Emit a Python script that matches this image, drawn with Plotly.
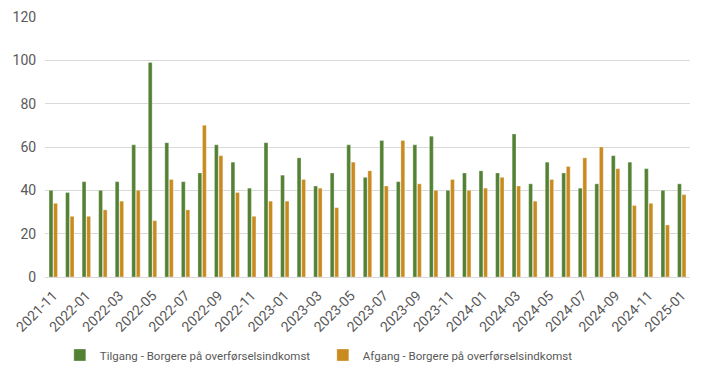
import plotly.graph_objects as go

months = ["2021-11","2021-12","2022-01","2022-02","2022-03","2022-04","2022-05","2022-06",
          "2022-07","2022-08","2022-09","2022-10","2022-11","2022-12","2023-01","2023-02",
          "2023-03","2023-04","2023-05","2023-06","2023-07","2023-08","2023-09","2023-10",
          "2023-11","2023-12","2024-01","2024-02","2024-03","2024-04","2024-05","2024-06",
          "2024-07","2024-08","2024-09","2024-10","2024-11","2024-12","2025-01"]
tilgang = [40,39,44,40,44,61,99,62,44,48,61,53,41,62,47,55,42,48,61,46,63,44,61,65,
           40,48,49,48,66,43,53,48,41,43,56,53,50,40,43]
afgang = [34,28,28,31,35,40,26,45,31,70,56,39,28,35,35,45,41,32,53,49,42,63,43,40,
          45,40,41,46,42,35,45,51,55,60,50,33,34,24,38]
tick_labels = months[::2]
y_ticks = [0,20,40,60,80,100,120]

font_fam = "Roboto, Arial, sans-serif"
grey = "#595959"

fig = go.Figure()
fig.add_trace(go.Bar(x=months, y=tilgang, name="Tilgang - Borgere på overførselsindkomst",
                     marker=dict(color="#548235", line=dict(color="rgba(255,255,255,0.6)", width=0.5))))
fig.add_trace(go.Bar(x=months, y=afgang, name="Afgang - Borgere på overførselsindkomst",
                     marker=dict(color="#C98B1F", line=dict(color="rgba(255,255,255,0.6)", width=0.5))))

fig.update_layout(
    width=711, height=381,
    margin=dict(l=45, r=21, t=17, b=104, autoexpand=False),
    paper_bgcolor="white", plot_bgcolor="white",
    barmode="group", bargap=0.45, bargroupgap=0.15,
    font=dict(family=font_fam, color=grey, size=13),
    legend=dict(orientation="h", x=0.023, xanchor="left", y=-0.3, yanchor="middle",
                font=dict(size=11.5, color=grey), itemwidth=30, entrywidth=218, entrywidthmode="pixels"),
    showlegend=True,
)
fig.update_xaxes(type="category", tickmode="array", tickvals=tick_labels, ticktext=tick_labels,
                 tickangle=-45, tickfont=dict(size=14, color=grey), showgrid=False,
                 showline=False, ticks="outside", ticklen=4, tickcolor="rgba(0,0,0,0)",
                 zeroline=False, automargin=False)
fig.update_yaxes(range=[0, 120], tickvals=y_ticks, showgrid=True, gridcolor="#D9D9D9", gridwidth=1,
                 zeroline=True, zerolinecolor="#D9D9D9", zerolinewidth=1, automargin=False,
                 tickfont=dict(size=14, color=grey), ticks="outside", ticklen=5, tickcolor="rgba(0,0,0,0)")

fig.write_html("out.html", config={"displayModeBar": False},
               post_script="document.body.style.margin='0px';")
